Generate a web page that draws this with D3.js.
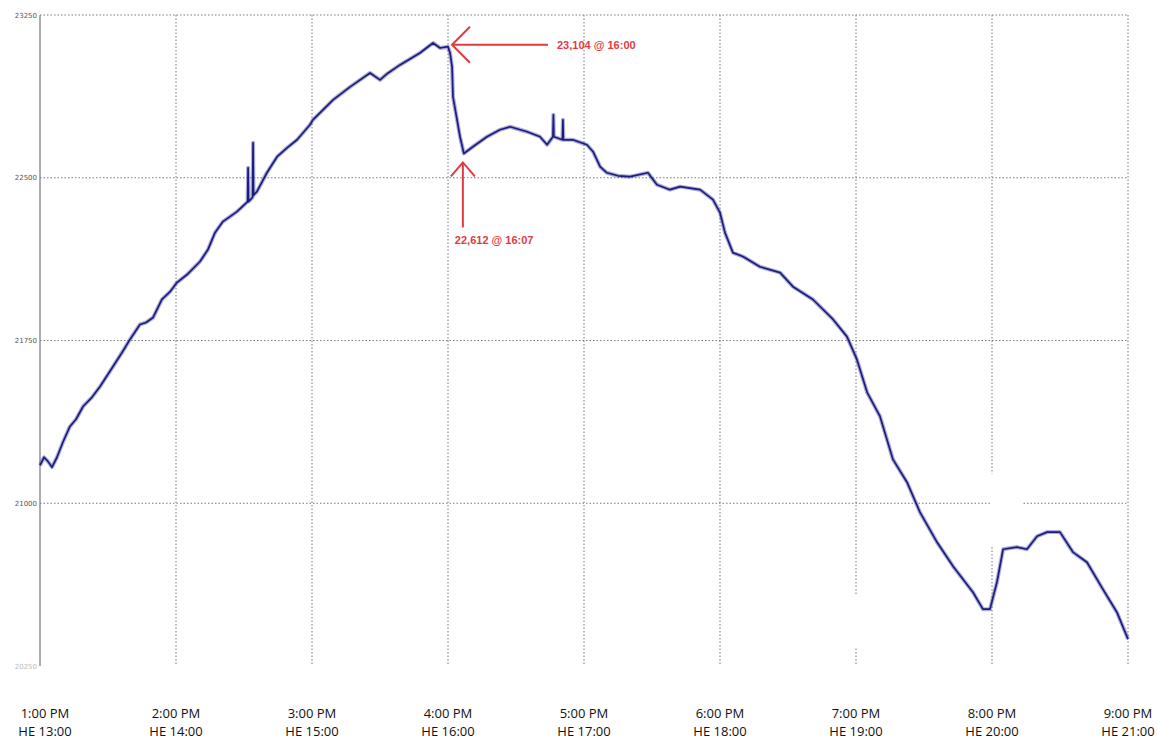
<!DOCTYPE html>
<html>
<head>
<meta charset="utf-8">
<script src="https://cdn.jsdelivr.net/npm/d3@7"></script>
<style>
  body { margin: 0; background: #fff; }
  svg { display: block; }
</style>
</head>
<body>
<div id="chart"></div>
<script>
// minutes after 13:00 and system load (MW)
const minutes = [0, 1.8, 3.5, 5.3, 7.5, 10.1, 13.2, 15.9, 19.0, 22.9, 26.5, 32.2, 36.2, 39.7, 44.1, 46.8, 49.9,
  53.8, 57.4, 60.4, 64.9, 70.6, 74.1, 77.2, 80.7, 86.9, 91.6, 91.8, 92.0, 93.8, 94.0, 94.2, 95.7, 100.1,
  104.6, 109.0, 113.4, 119.1, 120.4, 129.3, 136.8, 145.6, 150.0, 153.1, 158.8, 167.6, 173.4, 176.5, 180.0,
  180.9, 181.8, 182.2, 184.0, 185.3, 187.0, 191.0, 197.2, 202.9, 207.4, 214.9, 220.6, 223.7, 226.3, 226.5,
  226.7, 230.5, 230.7, 230.9, 235.1, 241.3, 244.0, 247.1, 250.1, 255.0, 260.3, 268.2, 272.2, 277.9, 282.4,
  291.2, 296.9, 300.0, 302.2, 305.7, 310.1, 317.6, 326.5, 332.2, 341.0, 349.9, 356.0, 360.4, 364.9, 370.6,
  376.3, 382.5, 388.2, 395.7, 402.8, 411.6, 416.0, 419.1, 422.2, 424.9, 431.0, 435.4, 439.9, 444.3, 450.0,
  455.7, 461.9, 468.9, 475.1, 480.0];
const loadMW = [21175, 21212, 21193, 21166, 21212, 21281, 21354, 21387, 21446, 21488, 21538, 21630, 21695, 21755, 21824, 21833, 21856,
  21939, 21975, 22017, 22054, 22114, 22169, 22247, 22298, 22344, 22390, 22546, 22390, 22410, 22661, 22420, 22436, 22523,
  22597, 22638, 22675, 22744, 22767, 22859, 22919, 22983, 22951, 22979, 23020, 23075, 23121, 23098, 23104,
  23075, 23011, 22873, 22767, 22689, 22612, 22643, 22689, 22721, 22735, 22712, 22689, 22652, 22689, 22790,
  22689, 22675, 22767, 22675, 22675, 22652, 22620, 22551, 22523, 22509, 22505, 22523, 22468, 22445, 22459,
  22445, 22399, 22339, 22247, 22155, 22137, 22090, 22063, 21998, 21939, 21847, 21768, 21663, 21511, 21400,
  21202, 21097, 20959, 20821, 20710, 20590, 20512, 20512, 20637, 20788, 20798, 20788, 20848, 20867, 20867,
  20775, 20728, 20604, 20498, 20374];

const yTicks = [23250, 22500, 21750, 21000, 20250];
const hourTicks = [0, 60, 120, 180, 240, 300, 360, 420, 480];
const clockLabels = ['1:00 PM', '2:00 PM', '3:00 PM', '4:00 PM', '5:00 PM', '6:00 PM', '7:00 PM', '8:00 PM', '9:00 PM'];
const heLabels = ['HE 13:00', 'HE 14:00', 'HE 15:00', 'HE 16:00', 'HE 17:00', 'HE 18:00', 'HE 19:00', 'HE 20:00', 'HE 21:00'];

const peak = { minute: 180, value: 23104, label: '23,104 @ 16:00' };
const trough = { minute: 187, value: 22612, label: '22,612 @ 16:07' };

const W = 1158, H = 742;
const plotLeft = 40, plotRight = 1128, plotTop = 15, plotBottom = 666;
const lineColor = '#1c1c7e';
const red = '#e23a3f';

const svg = d3.select('#chart').append('svg')
  .attr('width', W)
  .attr('height', H);

const x = d3.scaleLinear().domain([0, 480]).range([plotLeft, plotRight]);
const y = d3.scaleLinear().domain([20250, 23250]).range([plotBottom, plotTop]);

// horizontal dotted grid + labels
svg.append('g')
  .selectAll('line')
  .data(yTicks.slice(0, 4))
  .enter().append('line')
  .attr('x1', plotLeft).attr('x2', plotRight)
  .attr('y1', d => y(d)).attr('y2', d => y(d))
  .attr('stroke', '#7a7a7a')
  .attr('stroke-width', 1)
  .attr('stroke-dasharray', '1.5,2');

svg.append('g')
  .selectAll('text')
  .data(yTicks)
  .enter().append('text')
  .attr('x', plotLeft - 3)
  .attr('y', d => y(d) + 2.5)
  .attr('text-anchor', 'end')
  .attr('font-family', 'DejaVu Sans, sans-serif')
  .attr('font-size', 7)
  .attr('fill', (d, i) => i === 4 ? '#bbb' : '#555')
  .text(d => d);

// vertical dotted grid
svg.append('g')
  .selectAll('line')
  .data(hourTicks.slice(1))
  .enter().append('line')
  .attr('x1', d => x(d)).attr('x2', d => x(d))
  .attr('y1', plotTop).attr('y2', plotBottom)
  .attr('stroke', '#7a7a7a')
  .attr('stroke-width', 1)
  .attr('stroke-dasharray', '1.5,2');

// small gaps in the grid, as in the screenshot
svg.append('rect').attr('x', x(360) - 2).attr('y', 594).attr('width', 4).attr('height', 54).attr('fill', '#fff');
svg.append('rect').attr('x', x(420) - 2).attr('y', 474).attr('width', 4).attr('height', 72).attr('fill', '#fff');
svg.append('rect').attr('x', x(420) - 2).attr('y', y(21000) - 2).attr('width', 32).attr('height', 4).attr('fill', '#fff');

// left axis
svg.append('line')
  .attr('x1', plotLeft).attr('x2', plotLeft)
  .attr('y1', plotTop).attr('y2', plotBottom)
  .attr('stroke', '#777')
  .attr('stroke-width', 1.2);

// load trace
const pts = minutes.map((m, i) => [m, loadMW[i]]);
const line = d3.line().x(d => x(d[0])).y(d => y(d[1]));

svg.append('path')
  .datum(pts)
  .attr('d', line)
  .attr('fill', 'none')
  .attr('stroke', '#4a4aa8')
  .attr('stroke-opacity', 0.45)
  .attr('stroke-width', 4)
  .attr('stroke-linejoin', 'round');

svg.append('path')
  .datum(pts)
  .attr('d', line)
  .attr('fill', 'none')
  .attr('stroke', lineColor)
  .attr('stroke-width', 1.7)
  .attr('stroke-linejoin', 'round');

// peak annotation (arrow pointing left)
const px = x(peak.minute) + 4, py = y(peak.value) - 2;
const ann = svg.append('g').attr('stroke', red).attr('stroke-width', 2).attr('fill', 'none');
ann.append('line').attr('x1', px).attr('y1', py).attr('x2', px + 96).attr('y2', py);
ann.append('polyline').attr('points', `${px + 18},${py - 18} ${px},${py} ${px + 18},${py + 18}`);

svg.append('text')
  .attr('x', px + 105).attr('y', py + 4)
  .attr('font-family', 'Liberation Sans, Arial, sans-serif')
  .attr('font-weight', 'bold')
  .attr('font-size', 11)
  .attr('fill', red)
  .text(peak.label);

// trough annotation (arrow pointing up)
const tx = x(trough.minute) - 1, ty = y(trough.value) + 9;
ann.append('line').attr('x1', tx).attr('y1', ty).attr('x2', tx).attr('y2', ty + 65);
ann.append('polyline').attr('points', `${tx - 12},${ty + 14} ${tx},${ty} ${tx + 12},${ty + 14}`);

svg.append('text')
  .attr('x', tx - 8).attr('y', ty + 82)
  .attr('font-family', 'Liberation Sans, Arial, sans-serif')
  .attr('font-weight', 'bold')
  .attr('font-size', 11)
  .attr('fill', red)
  .text(trough.label);

// two-line hour labels
const xl = svg.append('g')
  .attr('font-family', 'Open Sans, sans-serif')
  .attr('font-size', 13)
  .attr('fill', '#111')
  .attr('text-anchor', 'middle');

xl.selectAll('text.clock')
  .data(hourTicks)
  .enter().append('text')
  .attr('class', 'clock')
  .attr('x', (d, i) => i === 0 ? x(d) + 5 : x(d))
  .attr('y', 718)
  .text((d, i) => clockLabels[i]);

xl.selectAll('text.he')
  .data(hourTicks)
  .enter().append('text')
  .attr('class', 'he')
  .attr('x', (d, i) => i === 0 ? x(d) + 5 : x(d))
  .attr('y', 736)
  .text((d, i) => heLabels[i]);
</script>
</body>
</html>
